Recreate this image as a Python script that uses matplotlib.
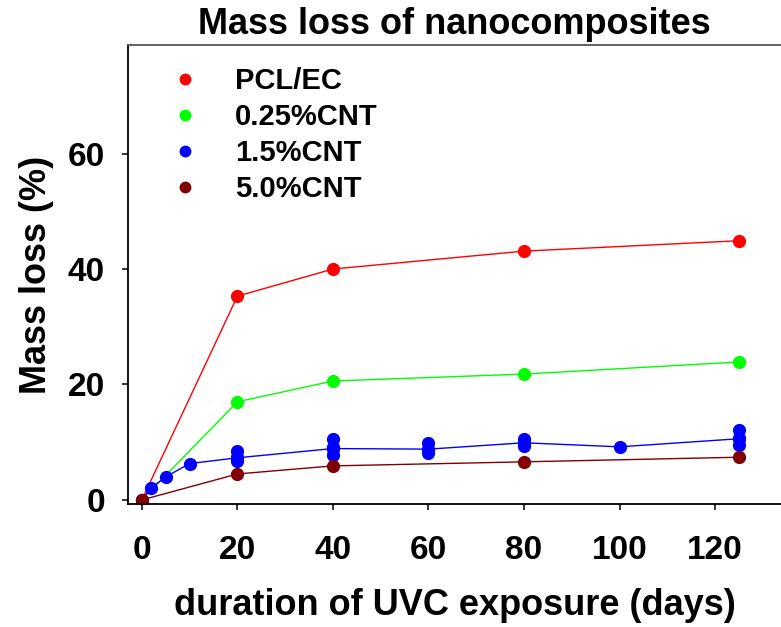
import numpy as np
import matplotlib
matplotlib.use('Agg')
import matplotlib.pyplot as plt
from matplotlib.lines import Line2D

plt.rcParams['font.family'] = ['Liberation Sans', 'DejaVu Sans']
plt.rcParams['font.weight'] = 'bold'

# mass loss (%) against UVC exposure time (days)
days_pcl = [0, 20, 40, 80, 125]
loss_pcl = [0, 35.3, 40.0, 43.1, 44.9]

days_025 = [0, 20, 40, 80, 125]
loss_025 = [0, 17.0, 20.6, 21.8, 23.9]

days_15 = [0, 2, 5, 10, 20, 40, 60, 80, 100, 125]
loss_15 = [0, 2.1, 4.0, 6.3, 7.3, 8.9, 8.8, 9.9, 9.2, 10.6]
# replicate measurements for 1.5%CNT
rep_days_15 = [20, 20, 20, 40, 40, 40, 60, 60, 60, 80, 80, 80, 125, 125, 125]
rep_loss_15 = [8.4, 7.5, 6.8, 10.6, 9.2, 7.7, 9.8, 8.6, 8.2, 10.6, 9.8, 9.4, 12.1, 10.7, 9.5]

days_50 = [0, 20, 40, 80, 125]
loss_50 = [0, 4.5, 5.9, 6.6, 7.4]

labels = ['PCL/EC', '0.25%CNT', '1.5%CNT', '5.0%CNT']
colors = ['#ff0000', '#00ff00', '#0000ff', '#800000']

fig = plt.figure(figsize=(7.81, 6.27), dpi=100)
ax = fig.add_axes([0.1639, 0.1962, 0.8361, 0.732])

ms = 8.5
lw = 1.0
ax.plot(days_pcl, loss_pcl, '-o', color=colors[0], ms=ms, lw=lw)
ax.plot(days_025, loss_025, '-o', color=colors[1], ms=ms, lw=lw)
ax.plot(days_15, loss_15, '-o', color=colors[2], ms=ms, lw=lw)
ax.plot(rep_days_15, rep_loss_15, 'o', color=colors[2], ms=ms)
ax.plot(days_50, loss_50, '-o', color=colors[3], ms=ms, lw=lw)

ax.set_xlim(-2.9, 133.8)
ax.set_ylim(-0.7, 78.8)
ax.set_xticks([0, 20, 40, 60, 80, 100, 120])
ax.set_yticks([0, 20, 40, 60])

for s in ['left', 'bottom', 'top']:
    ax.spines[s].set_linewidth(1.3)
ax.spines['top'].set_color('#555555')
ax.spines['right'].set_visible(False)
ax.tick_params(direction='out', length=4.5, width=1.1, labelsize=24, pad=12)
ax.tick_params(axis='x', pad=18)

ax.set_xlabel('duration of UVC exposure (days)', fontsize=26, fontweight='bold', labelpad=16)
ax.set_ylabel('Mass loss (%)', fontsize=26, fontweight='bold', labelpad=10)
ax.set_title('Mass loss of nanocomposites', fontsize=26, fontweight='bold', pad=8)

handles = [Line2D([], [], ls='none', marker='o', color=c, ms=7.5) for c in colors]
ax.legend(handles, labels, loc='upper left', bbox_to_anchor=(0.025, 0.977),
          frameon=False, prop={'size': 21, 'weight': 'bold'},
          handletextpad=0.7, labelspacing=0.27, borderaxespad=0)

fig.savefig('out.png', dpi=100)
